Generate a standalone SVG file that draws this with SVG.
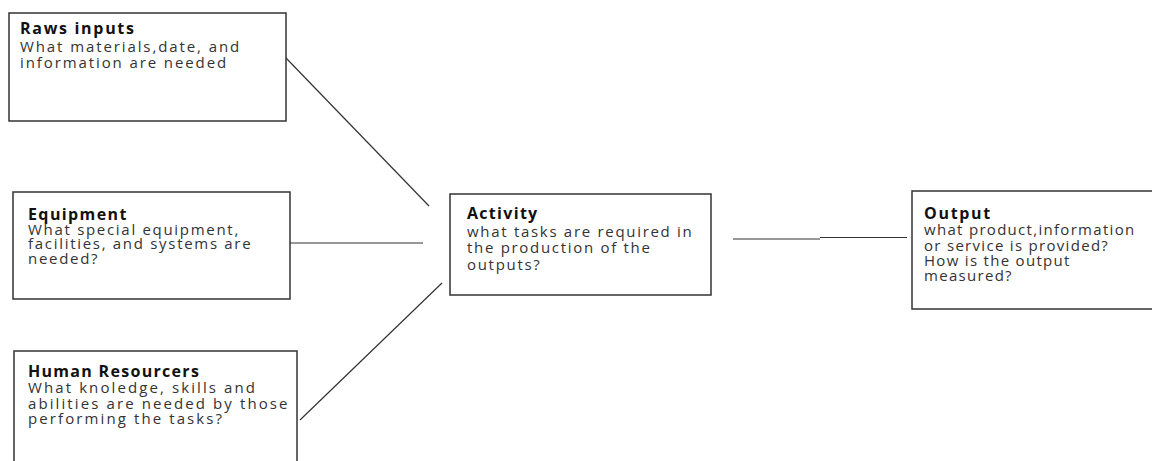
<svg xmlns="http://www.w3.org/2000/svg" width="1152" height="461" viewBox="0 0 1152 461">
<style>
.box{fill:#fff;stroke:#333;stroke-width:1.5}
.t{font-family:"Open Sans","Noto Sans",sans-serif;font-size:16px;font-weight:bold;fill:#111}
.b{font-family:"Open Sans","Noto Sans",sans-serif;font-size:15px;fill:#333}
.c{stroke:#333;stroke-width:1.2;fill:none}
</style>
<rect width="1152" height="461" fill="#fff"/>
<g id="connectors">
<line class="c" x1="286" y1="58" x2="429" y2="206"/>
<line class="c" x1="290" y1="243" x2="423" y2="243"/>
<line class="c" x1="300" y1="420" x2="442" y2="283"/>
<line class="c" x1="733" y1="239" x2="820" y2="239"/>
<line class="c" x1="820" y1="237.5" x2="907" y2="237.5"/>
</g>
<g id="raws">
<rect class="box" x="9" y="13" width="277" height="108"/>
<text class="t" x="20" y="34" letter-spacing="1.7">Raws inputs</text>
<text class="b" x="20" y="52" letter-spacing="1.9">What materials,date, and</text>
<text class="b" x="20" y="67.5" letter-spacing="1.9">information are needed</text>
</g>
<g id="equipment">
<rect class="box" x="13" y="192" width="277" height="107"/>
<text class="t" x="28" y="220" letter-spacing="1.4">Equipment</text>
<text class="b" x="28" y="234.5" letter-spacing="1.7">What special equipment,</text>
<text class="b" x="28" y="249" letter-spacing="1.7">facilities, and systems are</text>
<text class="b" x="28" y="263.5" letter-spacing="1.7">needed?</text>
</g>
<g id="human">
<rect class="box" x="14" y="351" width="283" height="120"/>
<text class="t" x="28" y="377" letter-spacing="1.3">Human Resourcers</text>
<text class="b" x="28" y="393" letter-spacing="2.1">What knoledge, skills and</text>
<text class="b" x="28" y="408.5" letter-spacing="2.1">abilities are needed by those</text>
<text class="b" x="28" y="424" letter-spacing="2.1">performing the tasks?</text>
</g>
<g id="activity">
<rect class="box" x="450" y="194" width="261" height="101"/>
<text class="t" x="467" y="219" letter-spacing="1.3">Activity</text>
<text class="b" x="467" y="236.5" letter-spacing="1.7">what tasks are required in</text>
<text class="b" x="467" y="253" letter-spacing="1.7">the production of the</text>
<text class="b" x="467" y="269.5" letter-spacing="1.7">outputs?</text>
</g>
<g id="output">
<rect class="box" x="912" y="191" width="250" height="118"/>
<text class="t" x="924" y="218.5" letter-spacing="1.7">Output</text>
<text class="b" x="924" y="235" letter-spacing="1.3">what product,information</text>
<text class="b" x="924" y="250.5" letter-spacing="1.3">or service is provided?</text>
<text class="b" x="924" y="266" letter-spacing="1.3">How is the output</text>
<text class="b" x="924" y="281" letter-spacing="1.3">measured?</text>
</g>
</svg>
